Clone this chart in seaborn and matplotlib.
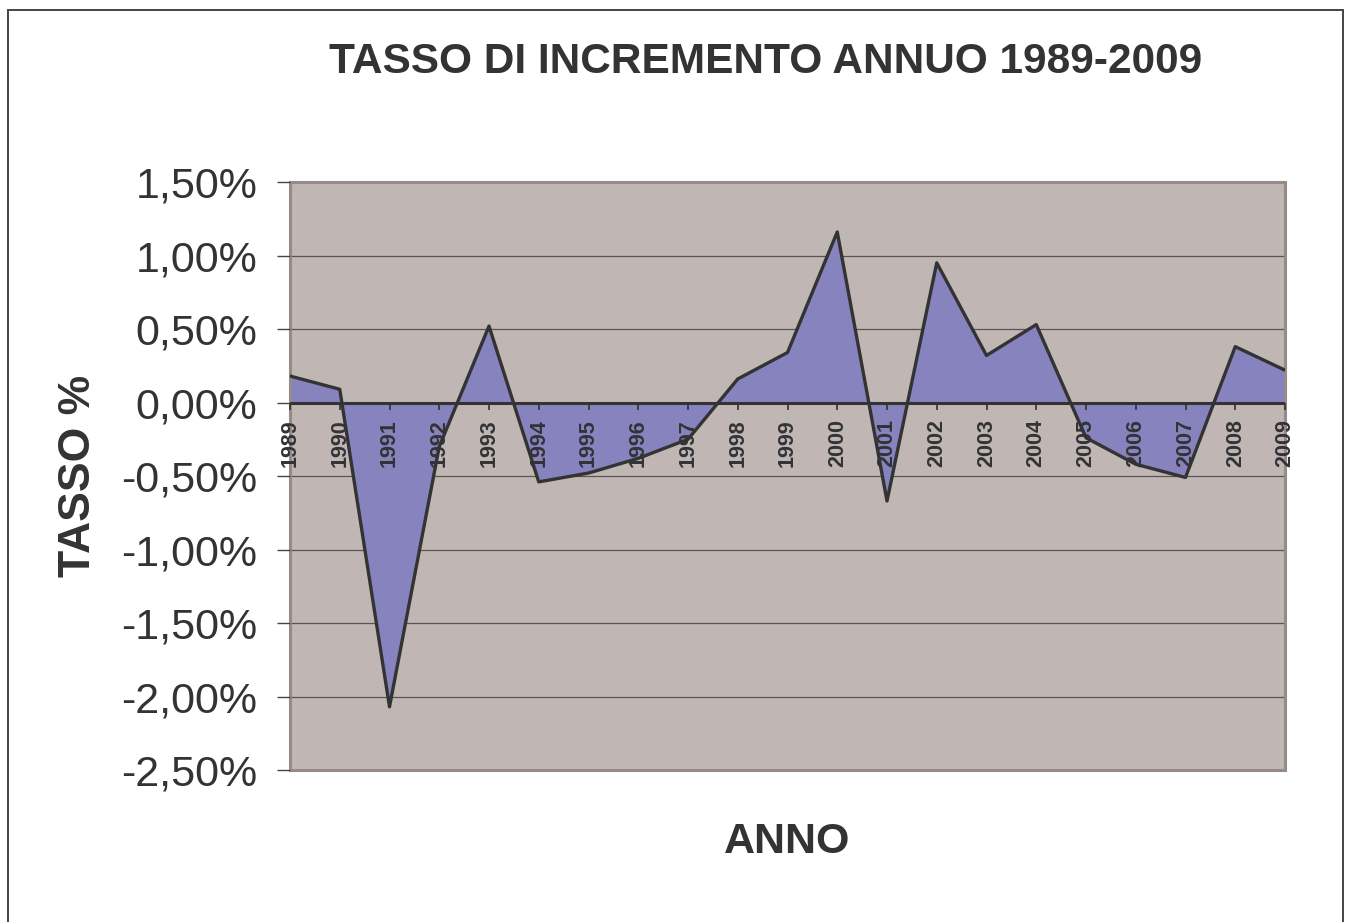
import numpy as np
import pandas as pd
import matplotlib
matplotlib.use("Agg")
import matplotlib.pyplot as plt
from matplotlib.patches import Rectangle
from matplotlib.ticker import FuncFormatter, MultipleLocator
import seaborn as sns

# dati (tasso in %)
anni = list(range(1989, 2010))
tasso = [0.18, 0.09, -2.07, -0.30, 0.52, -0.54, -0.48, -0.38, -0.25, 0.16,
         0.34, 1.16, -0.67, 0.95, 0.32, 0.53, -0.24, -0.42, -0.51, 0.38, 0.22]
y_ticks = [1.5, 1.0, 0.5, 0.0, -0.5, -1.0, -1.5, -2.0, -2.5]

df = pd.DataFrame({"anno": anni, "tasso": tasso})

sns.set_theme(style="white")
plt.rcParams['font.family'] = ['Liberation Sans', 'DejaVu Sans']

BG = '#c0b7b4'
FILL = '#8783be'
LINE = '#333333'
TXT = '#333336'

fig = plt.figure(figsize=(13.47, 9.22), dpi=100)
ax = fig.add_axes([290 / 1347, 1 - 770 / 922, (1285 - 290) / 1347, (770 - 182) / 922])
ax.set_facecolor(BG)

# gridlines
for v in y_ticks:
    ax.axhline(v, color='#5a5555', lw=0.9, zorder=1)

ax.fill_between(df["anno"], df["tasso"], 0, color=FILL, lw=0, zorder=2)
sns.lineplot(data=df, x="anno", y="tasso", color=LINE, lw=2.4, ax=ax, zorder=4)
ax.axhline(0, color=LINE, lw=2.2, zorder=3)

# asse x sullo zero (prima di impostare le etichette)
for s in ax.spines.values():
    s.set_visible(False)
ax.spines['bottom'].set_position(('data', 0))
ax.set_axisbelow(False)

ax.set_xlim(1989, 2009)
ax.set_ylim(-2.5, 1.5)
ax.yaxis.set_major_locator(MultipleLocator(0.5))
ax.yaxis.set_major_formatter(FuncFormatter(lambda v, p: f"{v:.2f}%".replace('.', ',')))
ax.set_xticks(anni)
ax.set_xticklabels([str(a) for a in anni], rotation=90, fontsize=15.5,
                   fontweight='bold', color=TXT)
ax.set_xlabel("")
ax.set_ylabel("")

ax.tick_params(axis='x', bottom=True, direction='out', length=5, width=1.2,
               color=LINE, pad=7)
ax.tick_params(axis='y', left=True, direction='out', length=9.5, width=1,
               color='#444444', pad=14, labelsize=31, labelcolor=TXT)

# cornice area del grafico
ax.add_patch(Rectangle((0, 0), 1, 1, transform=ax.transAxes, fill=False,
                       edgecolor='#968b88', lw=2.2, zorder=2.4, clip_on=False))

# cornice esterna
fig.patches.append(Rectangle((8 / 1347, -0.02), (1343 - 8) / 1347, 1 - 10 / 922 + 0.02,
                             transform=fig.transFigure, fill=False,
                             edgecolor='#444444', lw=1.4))

fig.text(766 / 1347, 1 - 62 / 922, "TASSO DI INCREMENTO ANNUO 1989-2009",
         ha='center', va='center', fontsize=30.5, fontweight='bold', color=TXT)
fig.text(78 / 1347, 1 - 476 / 922, "TASSO %", rotation=90, ha='center',
         va='center', fontsize=32, fontweight='bold', color=TXT)
fig.text(787 / 1347, 1 - 842 / 922, "ANNO", ha='center', va='center',
         fontsize=31, fontweight='bold', color=TXT)

fig.savefig("out.png", dpi=100, facecolor='white')
